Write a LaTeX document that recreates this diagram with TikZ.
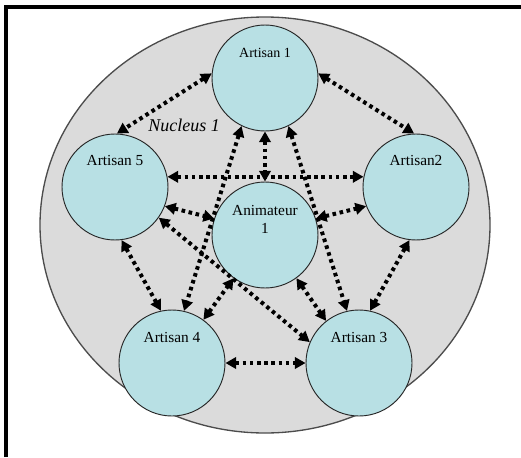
\documentclass[tikz,border=0pt]{standalone}
\usepackage{fontspec}
\setmainfont{Liberation Serif}
\usetikzlibrary{arrows.meta}

\definecolor{nucleusgray}{RGB}{219,219,219}
\definecolor{artisancyan}{RGB}{184,224,228}

\tikzset{
	artisan/.style={
		circle, draw=black!85, fill=artisancyan, line width=0.7pt,
		minimum size=79.5pt, inner sep=0pt
	},
	artisan name/.style={font=\fontsize{11.5}{13.5}\selectfont, align=center},
	link/.style={
		line width=3pt, dash pattern=on 2.7pt off 2.7pt,
		{Triangle[length=8pt,width=8.5pt]}-{Triangle[length=8pt,width=8.5pt]}
	}
}

\begin{document}
\begin{tikzpicture}[x=0.75pt, y=-0.75pt]
		\useasboundingbox (0,0) rectangle (521,457);
		% frame and nucleus
		\draw [black, line width=2.4pt] (6,457) -- (6,7) -- (521,7);
		\draw [draw=black!70, fill=nucleusgray, line width=1pt] (265,225) ellipse [x radius=168.75pt, y radius=156pt];
		\node [font=\fontsize{13.5}{16}\selectfont\itshape] (nucleus) at (184,125) {Nucleus 1};
		% artisans
		\node [artisan, label={[artisan name, font=\fontsize{10.5}{12}\selectfont, yshift=19pt]center:Artisan 1}] (a1) at (265,78) {};
		\node [artisan, label={[artisan name, yshift=20pt]center:Artisan2}] (a2) at (416,187) {};
		\node [artisan, label={[artisan name, yshift=19.5pt]center:Artisan 3}] (a3) at (359,363) {};
		\node [artisan, label={[artisan name, yshift=19.5pt]center:Artisan 4}] (a4) at (172,363) {};
		\node [artisan, label={[artisan name, yshift=20pt]center:Artisan 5}] (a5) at (115,187) {};
		\node [artisan, label={[artisan name, yshift=12pt]center:Animateur\\1}] (anim) at (265,235) {};
		% links
		\draw [link] (a1.175) -- (a5.88);
		\draw [link] (a1.5) -- (a2.92);
		\draw [link] (a5.11) -- (a2.169);
		\draw [link] (a1.270) -- (anim.90);
		\draw [link] (a1.244) -- (a4.77);
		\draw [link] (a1.296) -- (a3.103);
		\draw [link] (a5.277) -- (a4.102);
		\draw [link] (a2.263) -- (a3.78);
		\draw [link] (a5.339) -- (anim.162);
		\draw [link] (anim.18) -- (a2.201);
		\draw [link] (a5.325) -- (a3.157);
		\draw [link] (a4.54) -- (anim.234);
		\draw [link] (anim.306) -- (a3.128);
		\draw [link] (a4.0) -- (a3.180);
	\end{tikzpicture}
\end{document}
